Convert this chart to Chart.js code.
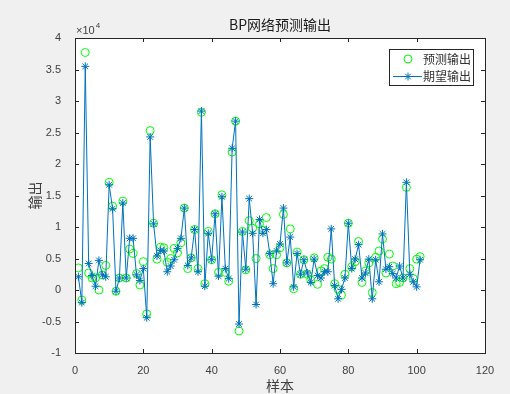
<!DOCTYPE html>
<html>
<head>
<meta charset="utf-8">
<script src="https://cdn.jsdelivr.net/npm/chart.js@4"></script>
<style>
  html, body { margin: 0; padding: 0; background: #f0f0f0; }
  canvas { display: block; }
</style>
</head>
<body>
<canvas id="bp-chart" width="510" height="394"></canvas>
<script>
'use strict';

// values in units of 1e4 (axis shows "x10^4")
const predicted = [
    0.35, -0.16, 3.77, 0.27, 0.19, 0.19, 0.00, 0.24, 0.39, 1.71,
    1.33, -0.02, 0.19, 1.41, 0.19, 0.65, 0.58, 0.26, 0.08, 0.45,
    -0.38, 2.53, 1.06, 0.49, 0.68, 0.67, 0.44, 0.50, 0.66, 0.59,
    0.75, 1.30, 0.34, 0.51, 0.96, 0.34, 2.82, 0.10, 0.93, 0.48,
    1.21, 0.28, 1.51, 0.28, 0.14, 2.19, 2.68, -0.65, 0.93, 0.32,
    1.10, 0.98, 0.50, 1.05, 0.95, 1.15, 0.56, 0.34, 0.56, 0.67,
    1.20, 0.43, 0.97, 0.02, 0.60, 0.25, 0.48, 0.25, 0.16, 0.51,
    0.09, 0.30, 0.34, 0.52, 0.49, 0.10, 0.01, -0.08, 0.25, 1.06,
    0.37, 0.45, 0.77, 0.12, 0.30, 0.43, -0.04, 0.52, 0.62, 0.81,
    0.27, 0.57, 0.38, 0.10, 0.12, 0.19, 1.63, 0.34, 0.18, 0.49,
    0.53
];
const expected = [
    0.21, -0.20, 3.55, 0.42, 0.23, 0.06, 0.47, 0.24, 0.21, 1.67,
    1.29, -0.02, 0.19, 1.38, 0.19, 0.82, 0.82, 0.24, 0.15, 0.34,
    -0.44, 2.43, 1.05, 0.54, 0.63, 0.62, 0.29, 0.38, 0.48, 0.66,
    0.82, 1.30, 0.39, 0.51, 0.96, 0.29, 2.84, 0.06, 0.90, 0.48,
    1.21, 0.22, 1.48, 0.34, 0.18, 2.25, 2.68, -0.54, 0.92, 0.33,
    1.45, 0.90, -0.23, 1.12, 0.90, 0.96, 0.58, 0.10, 0.62, 0.73,
    1.30, 0.43, 0.84, 0.05, 0.58, 0.25, 0.48, 0.27, 0.12, 0.49,
    0.23, 0.19, 0.29, 0.29, 0.97, 0.07, -0.14, 0.01, 0.19, 1.06,
    0.34, 0.49, 0.72, 0.19, 0.27, 0.49, -0.14, 0.48, 0.13, 0.89,
    0.33, 0.37, 0.26, 0.19, 0.38, 0.19, 1.71, 0.25, 0.13, 0.05,
    0.48
];
const seriesLabels = ['预测输出', '期望输出'];
const xTicks = [0, 20, 40, 60, 80, 100, 120];
const yTicks = [-1, -0.5, 0, 0.5, 1, 1.5, 2, 2.5, 3, 3.5, 4];

const AXIS = '#262626';
const GREEN = '#00ff00';
const BLUE = '#0072bd';
const LATIN = '"Liberation Sans", Arial, sans-serif';
const CJK = '"Noto Sans CJK SC", sans-serif';

const toPoints = arr => arr.map((v, i) => ({ x: i + 1, y: v }));

function drawStar(ctx, x, y, r) {
    ctx.beginPath();
    for (let k = 0; k < 4; k++) {
        const a = k * Math.PI / 4;
        ctx.moveTo(x - r * Math.cos(a), y - r * Math.sin(a));
        ctx.lineTo(x + r * Math.cos(a), y + r * Math.sin(a));
    }
    ctx.stroke();
}

// white plot area, box with inward ticks, title, exponent, legend
const matlabFrame = {
    id: 'matlabFrame',
    beforeDatasetsDraw(chart) {
        const { ctx, chartArea: a } = chart;
        ctx.save();
        ctx.fillStyle = '#ffffff';
        ctx.fillRect(a.left, a.top, a.right - a.left, a.bottom - a.top);
        ctx.restore();
    },
    afterDraw(chart) {
        const { ctx, chartArea: a, scales } = chart;
        const tl = 4;
        ctx.save();
        ctx.strokeStyle = AXIS;
        ctx.lineWidth = 1;
        ctx.strokeRect(Math.round(a.left) + 0.5, Math.round(a.top) + 0.5,
            Math.round(a.right - a.left), Math.round(a.bottom - a.top));
        ctx.beginPath();
        xTicks.forEach(v => {
            const px = Math.round(scales.x.getPixelForValue(v)) + 0.5;
            ctx.moveTo(px, a.bottom); ctx.lineTo(px, a.bottom - tl);
            ctx.moveTo(px, a.top); ctx.lineTo(px, a.top + tl);
        });
        yTicks.forEach(v => {
            const py = Math.round(scales.y.getPixelForValue(v)) + 0.5;
            ctx.moveTo(a.left, py); ctx.lineTo(a.left + tl, py);
            ctx.moveTo(a.right, py); ctx.lineTo(a.right - tl, py);
        });
        ctx.stroke();

        // title
        ctx.fillStyle = '#1a1a1a';
        ctx.textAlign = 'center';
        ctx.textBaseline = 'middle';
        ctx.font = '14px ' + CJK;
        ctx.fillText('BP网络预测输出', (a.left + a.right) / 2, 25);

        // exponent
        ctx.fillStyle = '#404040';
        ctx.textAlign = 'left';
        ctx.font = '11px ' + LATIN;
        const base = '×10';
        ctx.fillText(base, a.left + 1, 31);
        const w = ctx.measureText(base).width;
        ctx.font = '8px ' + LATIN;
        ctx.fillText('4', a.left + 2 + w, 26);

        // legend
        const lx = 389.5, ly = 49.5, lw = 84, lh = 36;
        ctx.fillStyle = '#ffffff';
        ctx.fillRect(lx, ly, lw, lh);
        ctx.strokeStyle = AXIS;
        ctx.strokeRect(lx, ly, lw, lh);
        const ds = chart.data.datasets;
        ctx.font = '12px ' + CJK;
        ctx.fillStyle = '#333333';
        // row 1: circles only
        ctx.strokeStyle = ds[0].borderColor;
        ctx.beginPath();
        ctx.arc(408, 59, 4, 0, Math.PI * 2);
        ctx.stroke();
        ctx.fillText(ds[0].label, 423, 59);
        // row 2: line + star
        ctx.strokeStyle = ds[1].borderColor;
        ctx.beginPath();
        ctx.moveTo(393, 76.5); ctx.lineTo(422, 76.5);
        ctx.stroke();
        drawStar(ctx, 408, 76.5, 4);
        ctx.fillText(ds[1].label, 423, 76);
        ctx.restore();
    }
};

new Chart(document.getElementById('bp-chart'), {
    type: 'line',
    data: {
        datasets: [
            {
                label: seriesLabels[0],
                data: toPoints(predicted),
                showLine: false,
                pointStyle: 'circle',
                pointRadius: 4,
                pointBorderWidth: 1,
                borderColor: GREEN,
                pointBorderColor: GREEN,
                pointBackgroundColor: 'rgba(0,0,0,0)',
                order: 1
            },
            {
                label: seriesLabels[1],
                data: toPoints(expected),
                borderColor: BLUE,
                borderWidth: 1,
                tension: 0,
                pointStyle: 'star',
                pointRadius: 4,
                pointBorderWidth: 1,
                pointBorderColor: BLUE,
                pointBackgroundColor: BLUE,
                order: 0
            }
        ]
    },
    options: {
        responsive: false,
        animation: false,
        events: [],
        layout: { padding: { left: 0, right: 25, top: 38, bottom: 0 } },
        scales: {
            x: {
                type: 'linear',
                min: 0,
                max: 120,
                afterFit: s => { s.height = 41; },
                afterBuildTicks: s => { s.ticks = xTicks.map(v => ({ value: v })); },
                grid: { display: false },
                border: { display: false },
                ticks: {
                    color: '#404040',
                    padding: 3,
                    maxRotation: 0,
                    font: { family: LATIN, size: 11 }
                },
                title: {
                    display: true,
                    text: '样本',
                    color: '#404040',
                    padding: { top: 0, bottom: 0 },
                    font: { family: CJK, size: 14 }
                }
            },
            y: {
                min: -1,
                max: 4,
                afterFit: s => { s.width = 75; },
                afterBuildTicks: s => { s.ticks = yTicks.map(v => ({ value: v })); },
                grid: { display: false },
                border: { display: false },
                ticks: {
                    color: '#404040',
                    padding: 6,
                    font: { family: LATIN, size: 11 },
                    callback: v => String(+v.toFixed(1))
                },
                title: {
                    display: true,
                    text: '输出',
                    color: '#404040',
                    padding: { top: 26, bottom: 0 },
                    font: { family: CJK, size: 14 }
                }
            }
        },
        plugins: {
            legend: { display: false },
            tooltip: { enabled: false }
        }
    },
    plugins: [matlabFrame]
});
</script>
</body>
</html>
